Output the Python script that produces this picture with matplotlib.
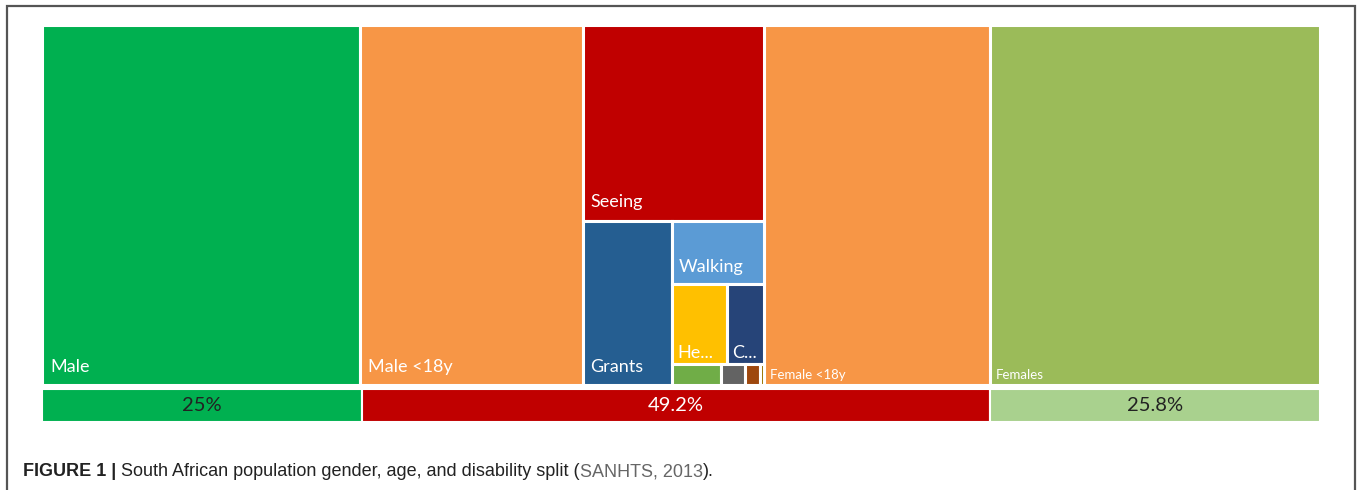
import matplotlib
matplotlib.use('Agg')
import matplotlib.pyplot as plt
from matplotlib.patches import Rectangle

# --- data (percent of population) ---
top_names = ["Male", "Male <18y", "Disability", "Female <18y", "Females"]
top_values = [24.85, 17.45, 14.2, 17.65, 25.85]
top_colors = ["#00B050", "#F79646", None, "#F79646", "#9BBB59"]

# disability block, nested
seeing = 7.75
grants = 3.17
walking = 1.25
hearing, comm = 0.96, 0.64
small_values = [0.23, 0.11, 0.07, 0.02]
small_colors = ["#70AD47", "#636363", "#9E480E", "#997300"]

split_names = ["25%", "49.2%", "25.8%"]
split_values = [25.0, 49.2, 25.8]
split_colors = ["#00B050", "#C00000", "#A9D18E"]
split_text = ["#222222", "white", "#222222"]

W, H = 1358, 490
fig = plt.figure(figsize=(W / 100, H / 100), dpi=100)


def split(rect, values, horizontal):
    """Slice a rect (x, y, w, h) into pieces proportional to values.
    Horizontal goes left->right, vertical goes top->bottom."""
    x, y, w, h = rect
    total = sum(values)
    out = []
    if horizontal:
        cx = x
        for v in values:
            pw = w * v / total
            out.append((cx, y, pw, h))
            cx += pw
    else:
        cy = y + h
        for v in values:
            ph = h * v / total
            cy -= ph
            out.append((x, cy, w, ph))
    return out


ax = fig.add_axes([42 / W, 1 - 385 / H, 1278 / W, 360 / H])
ax.set_xlim(0, 100)
ax.set_ylim(0, 1)
ax.axis('off')

label_font = dict(family=['Lato', 'DejaVu Sans'], color='white')


def box(rect, color, label=None, size=13, off=(8, 12)):
    x, y, w, h = rect
    ax.add_patch(Rectangle((x, y), w, h, facecolor=color, edgecolor='white', lw=2.2))
    if label:
        ax.annotate(label, xy=(x, y), xytext=off, textcoords='offset pixels',
                    fontsize=size, va='baseline', ha='left', **label_font)


cols = split((0, 0, 100, 1), top_values, True)
for name, color, r in zip(top_names, top_colors, cols):
    if color is None:
        continue
    if name == "Male" or name == "Male <18y":
        box(r, color, name, off=(8, 13))
    else:
        box(r, color, name, size=9.5, off=(6, 6))

# disability sub-tree
rest_sum = grants + walking + hearing + comm + sum(small_values)
seeing_r, rest_r = split(cols[2], [seeing, rest_sum], False)
box(seeing_r, "#C00000", "Seeing", off=(8, 14))
right_sum = rest_sum - grants
grants_r, right_r = split(rest_r, [grants, right_sum], True)
box(grants_r, "#255E91", "Grants", off=(8, 13))
walking_r, lower_r = split(right_r, [walking, right_sum - walking], False)
box(walking_r, "#5B9BD5", "Walking", off=(7, 12))
hc_r, small_r = split(lower_r, [hearing + comm, sum(small_values)], False)
he_r, c_r = split(hc_r, [hearing, comm], True)
box(he_r, "#FFC000", "He...", off=(6, 6))
box(c_r, "#264478", "C...", off=(5, 6))
for r, c in zip(split(small_r, small_values, True), small_colors):
    box(r, c)

# bottom split bar
bx = fig.add_axes([42 / W, 1 - 422 / H, 1278 / W, 33 / H])
left = 0
for name, v, c, tc in zip(split_names, split_values, split_colors, split_text):
    bx.barh(0, v, left=left, height=1, color=c, edgecolor='white', lw=1.5)
    bx.text(left + v / 2, 0, name, ha='center', va='center', fontsize=14.5,
            color=tc, family=['Lato', 'DejaVu Sans'])
    left += v
bx.set_xlim(0, 100)
bx.set_ylim(-0.5, 0.5)
bx.axis('off')

# frame round the figure (left, top, right)
fig.add_artist(Rectangle((7 / W, -0.1), (1355 - 7) / W, 1.1 - 6 / H, fill=False,
                         edgecolor='#555555', lw=1.6, transform=fig.transFigure))

# caption in three styles
cap_y = 1 - 476 / H
parts = [("FIGURE 1 | ", 'bold', '#222222'),
         ("South African population gender, age, and disability split (", 'normal', '#222222'),
         ("SANHTS, 2013", 'normal', '#666666'),
         (").", 'normal', '#222222')]
fig.canvas.draw()
renderer = fig.canvas.get_renderer()
cx = 23 / W
for txt, wt, col in parts:
    t = fig.text(cx, cap_y, txt, fontsize=13, fontweight=wt, color=col,
                 family=['Liberation Sans', 'DejaVu Sans'], va='baseline')
    bb = t.get_window_extent(renderer)
    cx += bb.width / W

fig.savefig('out.png', dpi=100)
